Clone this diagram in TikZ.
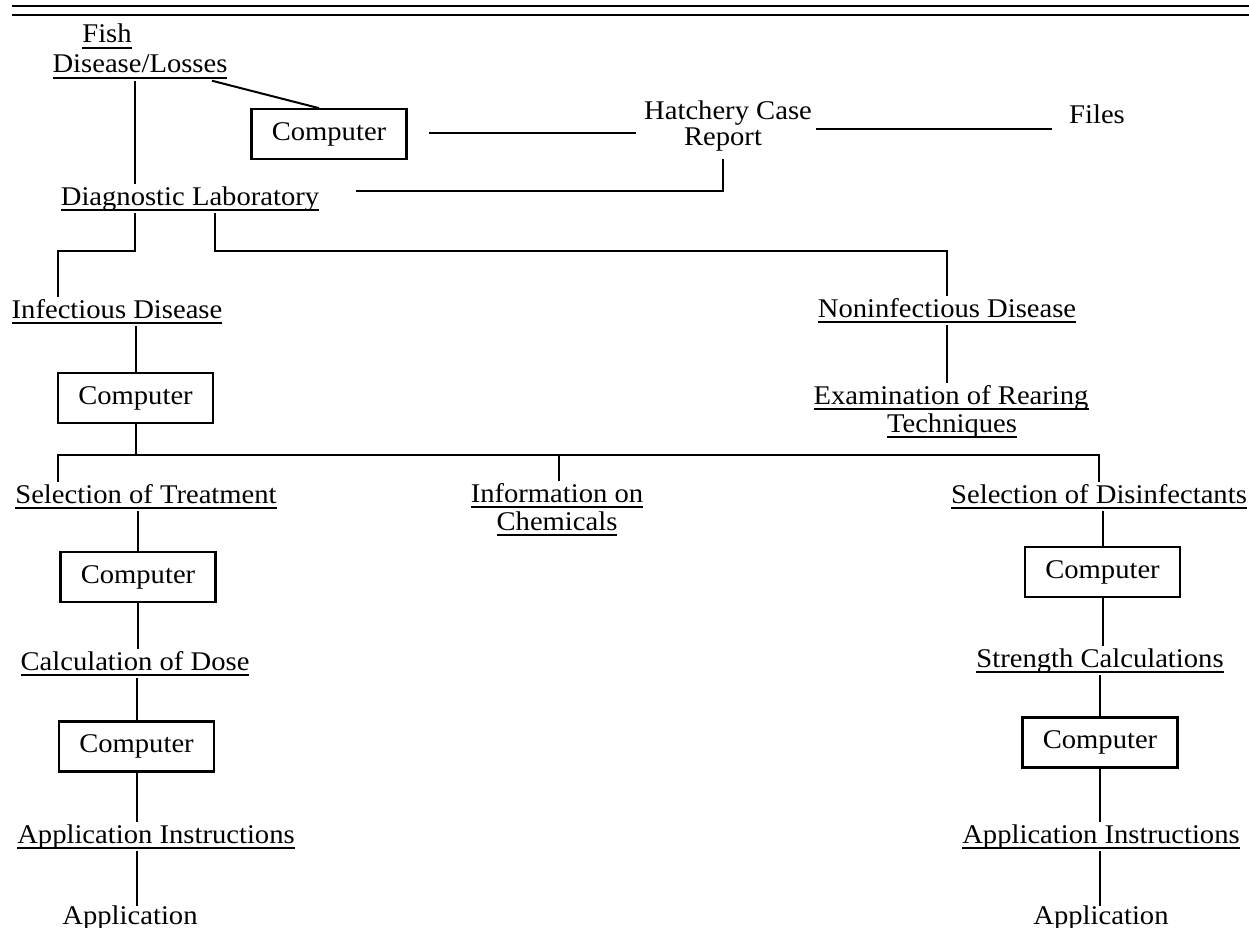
\documentclass[tikz,border=0pt]{standalone}
\usepackage{fontspec}
\setmainfont[FakeStretch=1.06]{Liberation Serif}
\usetikzlibrary{calc}
\begin{document}
\begin{tikzpicture}[x=1pt,y=-1pt,
  txt/.style={inner sep=0pt, outer sep=0pt, anchor=base, font=\fontsize{27}{29}\selectfont},
  lab/.style={txt, text height=22pt, text depth=9pt},
  plain/.style={txt, text height=17pt, text depth=5pt},
  ul/.style={lab, append after command={([yshift=-5pt]\tikzlastnode.base west) edge[line width=1.4pt] ([yshift=-5pt]\tikzlastnode.base east)}},
  comp/.style={draw, line width=2.2pt, minimum width=155pt, minimum height=50pt, inner sep=0pt, font=\fontsize{27}{29}\selectfont},
  conn/.style={line width=2pt, line cap=rect},
  rule/.style={line width=2.4pt}]
\useasboundingbox (0,0) rectangle (1249,928);
% top rules
\coordinate (r1a) at (12,6);  \coordinate (r1b) at (1249,6);
\coordinate (r2a) at (12,15); \coordinate (r2b) at (1249,15);
\draw[rule] (r1a) -- (r1b);
\draw[rule, line width=2pt] (r2a) -- (r2b);
% text nodes
\node[ul] (fish) at (107,43) {Fish};
\node[ul] (dis) at (140,73) {Disease/Losses};
\node[ul] (diag) at (190,205) {Diagnostic Laboratory};
\node[plain] (hat) at (728,120) {Hatchery Case};
\node[plain] (rep) at (723,146) {Report};
\node[plain] (files) at (1097,124) {Files};
\node[ul] (infd) at (117,318) {Infectious Disease};
\node[ul] (noninf) at (947,317) {Noninfectious Disease};
\node[ul] (exam) at (951,404) {Examination of Rearing};
\node[ul] (tech) at (952,432) {Techniques};
\node[ul] (selt) at (146,503) {Selection of Treatment};
\node[ul] (info) at (557,502) {Information on};
\node[ul] (chem) at (557,530) {Chemicals};
\node[ul] (seld) at (1099,503) {Selection of Disinfectants};
\node[ul] (calcd) at (135,670) {Calculation of Dose};
\node[ul] (str) at (1100,667) {Strength Calculations};
\node[ul] (appl) at (156,843) {Application Instructions};
\node[ul] (appr) at (1101,843) {Application Instructions};
\node[plain] (al) at (130,924) {Application};
\node[plain] (ar) at (1101,924) {Application};
% computer boxes
\node[comp] (c1) at (329,134) {Computer};
\node[comp] (c2) at (135.5,398) {Computer};
\node[comp] (c3) at (138,577) {Computer};
\node[comp] (c4) at (136.5,746.5) {Computer};
\node[comp] (c5) at (1102.5,572) {Computer};
\node[comp] (c6) at (1100,742.5) {Computer};
% helper coordinates
\coordinate (colA) at (135,0);
\coordinate (colB) at (215,0);
\coordinate (colL) at (58,0);
\coordinate (colR) at (1099,0);
\coordinate (colM) at (559,0);
\coordinate (jn) at (0,455);
\coordinate (br) at (0,251);
% connectors
\draw[conn] (colA |- dis.south) -- (colA |- diag.north);
\draw[conn] ($(dis.south)+(73,-1)$) -- ($(c1.north)+(-11,0)$);
\draw[conn] ($(c1.east)+(22,-1)$) -- ($(hat.west |- c1.east)+(-9,-1)$);
\draw[conn] ($(hat.base east)+(5,9)$) -- ($(files.base west)+(-18,5)$);
\draw[conn] ($(diag.east)+(38,-8)$) -| ($(rep.base)+(0,14)$);
\draw[conn] (colA |- diag.south) -- (colA |- br) -| (colL |- infd.north);
\draw[conn] (colB |- diag.south) -- (colB |- br) -| (noninf.north);
\draw[conn] (noninf.south) -- (noninf.south |- exam.north);
\draw[conn] (c2.north |- infd.south) -- (c2.north);
\draw[conn] (c2.south) -- (c2.south |- jn);
\draw[conn] (colL |- selt.north) -- (colL |- jn) -- (colR |- jn) -- (colR |- seld.north);
\draw[conn] (colM |- jn) -- (colM |- info.north);
\draw[conn] (c3.north |- selt.south) -- (c3.north);
\draw[conn] (c3.south) -- (c3.south |- calcd.north);
\draw[conn] (c4.north |- calcd.south) -- (c4.north);
\draw[conn] (c4.south) -- (c4.south |- appl.north);
\draw[conn] (c4.south |- appl.south) -- ($(c4.south |- al.base)+(0,-19)$);
\draw[conn] (c5.north |- seld.south) -- (c5.north);
\draw[conn] (c5.south) -- (c5.south |- str.north);
\draw[conn] (c6.north |- str.south) -- (c6.north);
\draw[conn] (c6.south) -- (c6.south |- appr.north);
\draw[conn] (c6.south |- appr.south) -- ($(c6.south |- ar.base)+(0,-19)$);
\end{tikzpicture}
\end{document}
